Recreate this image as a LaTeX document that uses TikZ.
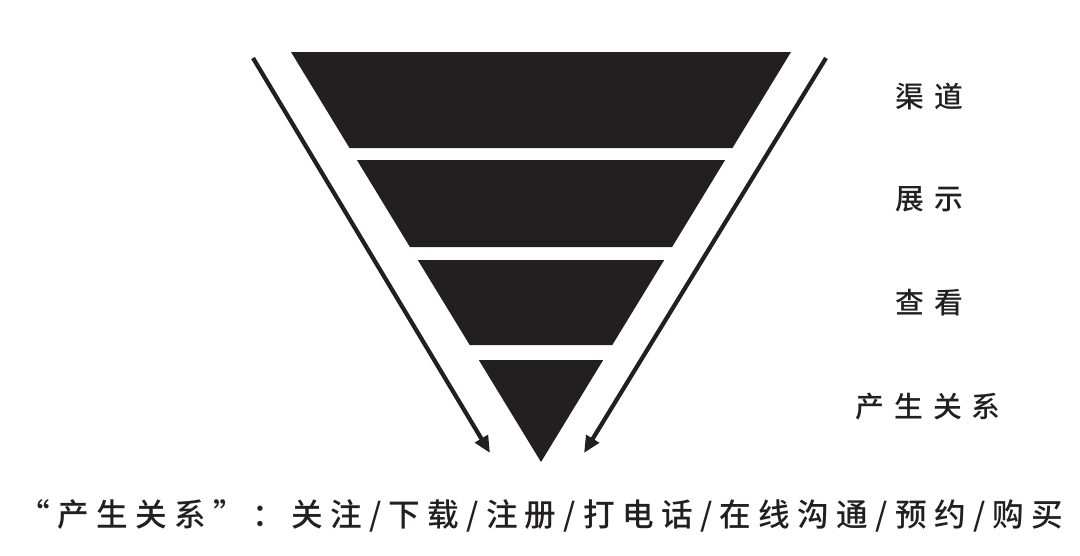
\documentclass[tikz,border=0pt]{standalone}
\usepackage{fontspec}
\newfontfamily\cjk{Noto Sans CJK SC Medium}[LetterSpace=35]
\newfontfamily\cjknote{Noto Sans CJK SC Medium}[LetterSpace=23]
\usetikzlibrary{arrows.meta}
\definecolor{ink}{HTML}{231F20}
\begin{document}
\begin{tikzpicture}[x=0.025cm,y=-0.025cm,
  band/.style={fill=ink},
  lbl/.style={text=ink,inner sep=0pt,font=\cjk\fontsize{20.5pt}{24pt}\selectfont},
  arr/.style={draw=ink,line width=3pt,-{Triangle[length=0.42cm,width=0.36cm]}}]
\useasboundingbox (0,0) rectangle (1080,555);
% funnel
\fill[band] (291,52) -- (791,52) -- (732.5,148) -- (349.5,148) -- cycle;
\fill[band] (356.9,160) -- (725.1,160) -- (672.1,247) -- (409.9,247) -- cycle;
\fill[band] (417.8,260) -- (664.2,260) -- (612.3,345) -- (469.7,345) -- cycle;
\fill[band] (478.8,360) -- (603.2,360) -- (541,462) -- cycle;
% arrows
\coordinate (ls) at (253,58);
\coordinate (le) at (490,453);
\coordinate (rs) at (826,58);
\coordinate (re) at (584,453);
\draw[arr] (ls) -- (le);
\draw[arr] (rs) -- (re);
% labels
\node[lbl] (qd) at (929,96) {渠道};
\node[lbl] (zs) at (929,199) {展示};
\node[lbl] (ck) at (929,303) {查看};
\node[lbl] (csgx) at (928,407) {产生关系};
\node[text=ink,inner sep=0pt,font=\cjknote\fontsize{22.5pt}{26pt}\selectfont] (note) at (541,516)
  {“产生关系”：关注/下载/注册/打电话/在线沟通/预约/购买};
\end{tikzpicture}
\end{document}
